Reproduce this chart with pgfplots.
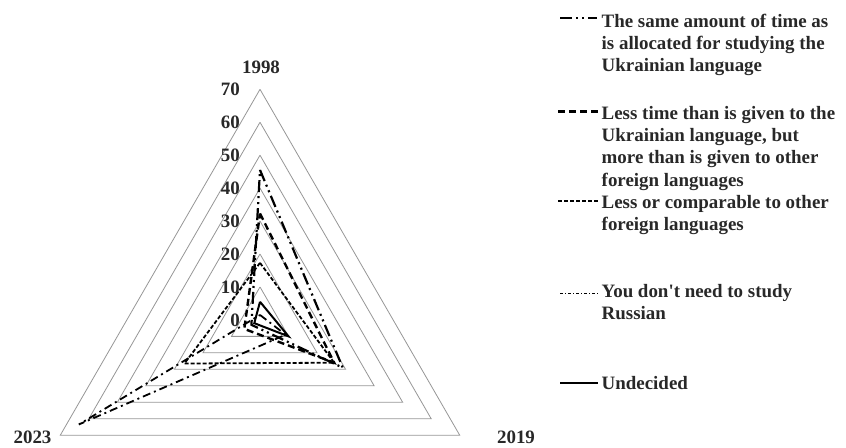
\documentclass[border=0pt]{standalone}
\usepackage{fontspec}
\setmainfont{Liberation Serif}
\newfontfamily\aposfont{Liberation Serif}[Ligatures=TeXOff]
\usepackage{pgfplots}
\pgfplotsset{compat=1.18}
\usepgfplotslibrary{polar}
\definecolor{gridc}{RGB}{150,150,150}
\definecolor{txt}{RGB}{40,40,40}
\begin{document}
\begin{tikzpicture}[x=1bp,y=1bp]
\begin{axis}[at={(0,0)},anchor=south west,
  x=3.294bp, y=3.294bp,
  xmin=-78.93, xmax=177.9, ymin=-38.89, ymax=97.12,
  hide axis, clip=false]
% grid triangles
\pgfplotsinvokeforeach{10,20,30,40,50,60,70}{
  \addplot[gridc, line width=0.8bp, data cs=polar, forget plot] coordinates {(90,#1) (-30,#1) (210,#1) (90,#1)};
}
% angle 90 = 1998, -30 = 2019, 210 = 2023
% The same amount of time as Ukrainian
\addplot[black, line width=2.2bp, dash pattern=on 12bp off 4bp on 2bp off 4bp on 2bp off 4bp, data cs=polar]
  coordinates {(90,45.5) (-30,29) (210,3) (90,45.5)};
% Less time than Ukrainian, more than foreign
\addplot[black, line width=2.4bp, dash pattern=on 7bp off 4bp, data cs=polar]
  coordinates {(90,32.3) (-30,26) (210,5.5) (90,32.3)};
% Less or comparable to foreign
\addplot[black, line width=1.8bp, dash pattern=on 4bp off 2bp, data cs=polar]
  coordinates {(90,17.3) (-30,26) (210,26.5) (90,17.3)};
% No need to study Russian
\addplot[black, line width=1.8bp, dash pattern=on 8bp off 4bp on 2bp off 4bp, data cs=polar]
  coordinates {(90,1.5) (-30,9) (210,63.5) (90,1.5)};
% Undecided
\addplot[black, line width=2bp, data cs=polar]
  coordinates {(90,5.5) (-30,10) (210,2) (90,5.5)};
\end{axis}
\begin{scope}[every node/.style={inner sep=0pt, text=txt, font=\fontsize{19}{22}\selectfont\bfseries}]
% radial tick labels
\foreach \v in {0,10,20,30,40,50,60,70}{
  \node[anchor=east] at (240, {128.1+3.294*\v}) {\v};
}
\node at (261,380.5) {1998};
\node[anchor=base] at (32.5,4.5) {2023};
\node[anchor=base] at (516,4.5) {2019};
% legend text
\node[anchor=base west] at (601.5,{448-27.3}) {The same amount of time as};
\node[anchor=base west] at (601.5,{448-49.5}) {is allocated for studying the};
\node[anchor=base west] at (601.5,{448-71.8}) {Ukrainian language};
\node[anchor=base west] at (601.5,{448-119.3}) {Less time than is given to the};
\node[anchor=base west] at (601.5,{448-141.6}) {Ukrainian language, but};
\node[anchor=base west] at (601.5,{448-163.9}) {more than is given to other};
\node[anchor=base west] at (601.5,{448-186.2}) {foreign languages};
\node[anchor=base west] at (601.5,{448-208.3}) {Less or comparable to other};
\node[anchor=base west] at (601.5,{448-230.6}) {foreign languages};
\node[anchor=base west] at (601.5,{448-297.7}) {You don{\aposfont\bfseries'}t need to study};
\node[anchor=base west] at (601.5,{448-320}) {Russian};
\node[anchor=base west] at (601.5,{448-390}) {Undecided};
\end{scope}
% legend samples
\draw[black, line width=2.2bp, dash pattern=on 12bp off 4bp on 2bp off 4bp on 2bp off 4bp] (560,429.7) -- (597,429.7);
\draw[black, line width=2.4bp, dash pattern=on 7bp off 4bp] (558,336.3) -- (600,336.3);
\draw[black, line width=1.8bp, dash pattern=on 4bp off 2bp] (558,247) -- (600,247);
\draw[black, line width=1.2bp, dash pattern=on 3bp off 2bp on 1bp off 2bp] (560,154.7) -- (600,154.7);
\draw[black, line width=2bp] (560,64.7) -- (598,64.7);
\pgfresetboundingbox
\path[use as bounding box] (0,0) rectangle (846,448);
\end{tikzpicture}
\end{document}
